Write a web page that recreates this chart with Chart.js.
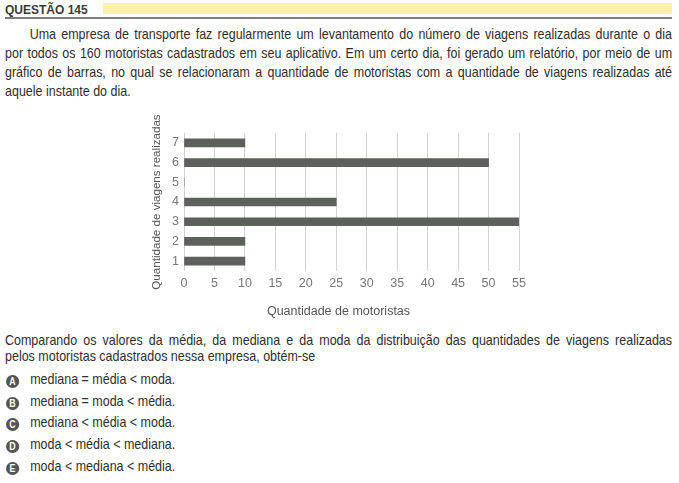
<!DOCTYPE html>
<html>
<head>
<meta charset="utf-8">
<script src="https://cdn.jsdelivr.net/npm/chart.js@4/dist/chart.umd.min.js"></script>
<style>
  html, body { margin: 0; padding: 0; background: #ffffff; }
  body { width: 679px; height: 483px; position: relative; overflow: hidden;
         font-family: "Liberation Sans", Arial, sans-serif; color: #2e2e2e; }
  .hdr { position: absolute; left: 5px; top: 3px; font-weight: bold; font-size: 12px; color: #3a3a3a; }
  .hdrbar { position: absolute; left: 103px; top: 3px; width: 569px; height: 11px; background: #fbf2a6; }
  .hdrline { position: absolute; left: 5px; top: 17px; width: 667px; height: 2px; background: #7d7d7d; }
  .txt { position: absolute; left: 5px; width: 758px; transform: scaleX(0.88); transform-origin: 0 0;
         font-size: 14.2px; }
  .ln { text-align: justify; text-align-last: justify; }
  .ln.last { text-align-last: left; }
  .p1 { top: 25px; line-height: 19px; }
  .p1 .first { padding-left: 28px; }
  .p2 { top: 332px; line-height: 16px; }
  .opt { line-height: 16px; }
  .opt b { display: inline-block; width: 14.5px; height: 13px; border-radius: 50%; background: #555;
           color: #fff; font-size: 10px; line-height: 13px; text-align: center; margin-right: 13px;
           vertical-align: -1px; }
  #c { position: absolute; left: 140px; top: 105px; }
</style>
</head>
<body>
<div class="hdrbar"></div>
<div class="hdr">QUESTÃO 145</div>
<div class="hdrline"></div>
<div class="txt p1">
  <div class="ln first">Uma empresa de transporte faz regularmente um levantamento do número de viagens realizadas durante o dia</div>
  <div class="ln">por todos os 160 motoristas cadastrados em seu aplicativo. Em um certo dia, foi gerado um relatório, por meio de um</div>
  <div class="ln">gráfico de barras, no qual se relacionaram a quantidade de motoristas com a quantidade de viagens realizadas até</div>
  <div class="ln last">aquele instante do dia.</div>
</div>
<canvas id="c" width="400" height="218"></canvas>
<div class="txt p2">
  <div class="ln">Comparando os valores da média, da mediana e da moda da distribuição das quantidades de viagens realizadas</div>
  <div class="ln last">pelos motoristas cadastrados nessa empresa, obtém-se</div>
</div>
<div class="txt opt" style="top:371px; left:6px"><b>A</b>mediana = média &lt; moda.</div>
<div class="txt opt" style="top:393px; left:6px"><b>B</b>mediana = moda &lt; média.</div>
<div class="txt opt" style="top:414px; left:6px"><b>C</b>mediana &lt; média &lt; moda.</div>
<div class="txt opt" style="top:436px; left:6px"><b>D</b>moda &lt; média &lt; mediana.</div>
<div class="txt opt" style="top:458px; left:6px"><b>E</b>moda &lt; mediana &lt; média.</div>
<script>
const viagens = ['1', '2', '3', '4', '5', '6', '7'];
const motoristas = [10, 10, 55, 25, 0, 50, 10];
const xMin = 0;
const xMax = 55;
const xStep = 5;
const xTitle = 'Quantidade de motoristas';
const yTitle = 'Quantidade de viagens realizadas';

Chart.defaults.font.family = '"Liberation Sans", Arial, sans-serif';

const shiftTitle = {
  id: 'shiftTitle',
  afterLayout(chart) {
    const t = chart.titleBlock;
    if (t) { t.left += 9; t.right += 9; }
  }
};

new Chart(document.getElementById('c'), {
  type: 'bar',
  data: {
    labels: viagens,
    datasets: [{
      data: motoristas,
      backgroundColor: '#5c615c',
      borderWidth: 0,
      barThickness: 8
    }]
  },
  plugins: [shiftTitle],
  options: {
    indexAxis: 'y',
    responsive: false,
    animation: false,
    layout: { padding: { top: 28, right: 21, left: 0, bottom: 0 } },
    plugins: {
      legend: { display: false },
      tooltip: { enabled: false },
      title: {
        display: true, position: 'bottom', text: xTitle, color: '#555',
        font: { size: 12.5, weight: 'normal' }, padding: { top: 2, bottom: 4 }
      }
    },
    scales: {
      x: {
        min: xMin, max: xMax,
        ticks: { stepSize: xStep, color: '#777', padding: 5, font: { size: 12.5 } },
        grid: { color: '#d2d2d2', drawTicks: false, lineWidth: 1 },
        border: { display: false },
        title: { display: false },
        afterFit: s => { s.height = 31; }
      },
      y: {
        reverse: true,
        ticks: { color: '#777', padding: 5, font: { size: 12.5 } },
        grid: { display: false, drawTicks: false },
        border: { display: false },
        title: { display: true, text: yTitle, color: '#555', font: { size: 11.6 }, padding: { top: 9.5, bottom: 0 } },
        afterFit: s => { s.width = 44; }
      }
    }
  }
});
</script>
</body>
</html>
